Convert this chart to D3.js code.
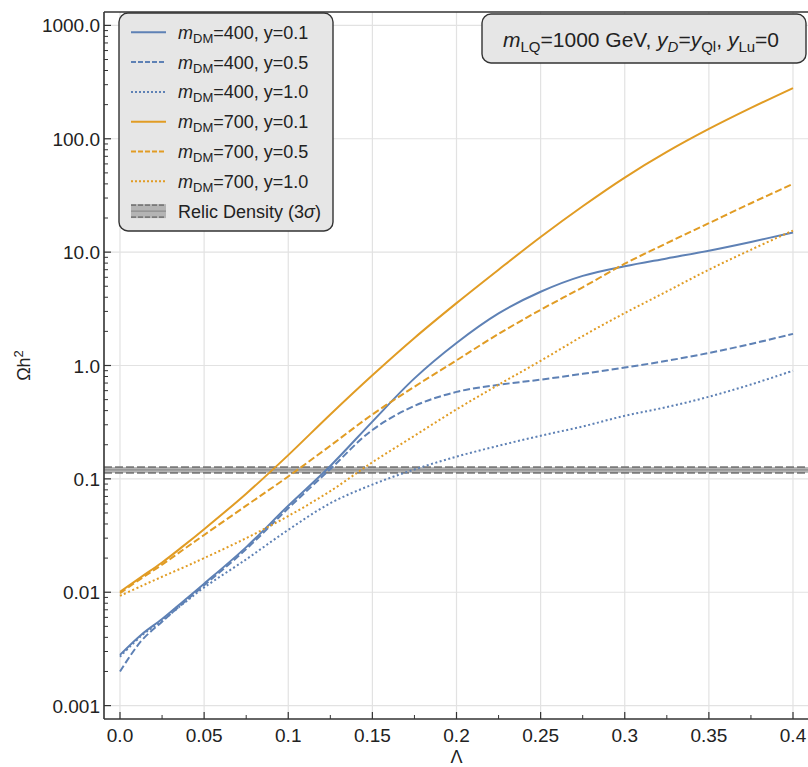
<!DOCTYPE html>
<html>
<head>
<meta charset="utf-8">
<script src="https://cdn.jsdelivr.net/npm/d3@7"></script>
<style>
  body { margin: 0; background: #fff; }
  svg { display: block; font-family: "Liberation Sans", Arial, sans-serif; }
</style>
</head>
<body>
<div id="chart"></div>
<script>
// Omega h^2 vs Lambda
var lambda = [0, 0.0125, 0.025, 0.0375, 0.05, 0.075, 0.1, 0.125, 0.15, 0.175, 0.2, 0.225, 0.25, 0.275, 0.3, 0.325, 0.35, 0.375, 0.4];

var dm400y01 = [0.0028, 0.0042, 0.0058, 0.0083, 0.0119, 0.025, 0.058, 0.13, 0.32, 0.77, 1.58, 2.88, 4.47, 6.17, 7.5, 8.8, 10.3, 12.3, 14.9];
var dm400y05 = [0.0020, 0.0037, 0.0055, 0.0080, 0.0115, 0.024, 0.055, 0.122, 0.27, 0.44, 0.585, 0.675, 0.75, 0.845, 0.96, 1.1, 1.29, 1.55, 1.9];
var dm400y10 = [0.0027, 0.0041, 0.0056, 0.0079, 0.011, 0.0195, 0.0355, 0.061, 0.089, 0.121, 0.157, 0.196, 0.24, 0.29, 0.36, 0.43, 0.53, 0.68, 0.9];
var dm700y01 = [0.0101, 0.0136, 0.0183, 0.0255, 0.036, 0.074, 0.162, 0.37, 0.82, 1.75, 3.55, 7.0, 13.6, 25.4, 45.5, 76.5, 122, 187, 280];
var dm700y05 = [0.0098, 0.0132, 0.0175, 0.0237, 0.032, 0.058, 0.105, 0.196, 0.37, 0.65, 1.11, 1.9, 3.1, 4.9, 7.9, 12, 18, 27, 40];
var dm700y10 = [0.0093, 0.0113, 0.0137, 0.0165, 0.020, 0.030, 0.047, 0.078, 0.14, 0.24, 0.41, 0.676, 1.10, 1.82, 2.9, 4.5, 7.0, 10.5, 15.5];

var relic = [0.113, 0.12, 0.127];   // lower, central, upper

var xTicks = [0, 0.05, 0.1, 0.15, 0.2, 0.25, 0.3, 0.35, 0.4];
var xTickLabels = ["0.0", "0.05", "0.1", "0.15", "0.2", "0.25", "0.3", "0.35", "0.4"];
var yTicks = [0.001, 0.01, 0.1, 1, 10, 100, 1000];
var yTickLabels = ["0.001", "0.01", "0.1", "1.0", "10.0", "100.0", "1000.0"];

var blue = "#5e81b5", orange = "#e19c24";

var series = [
  { mdm: 400, y: "0.1", values: dm400y01, color: blue, dash: null },
  { mdm: 400, y: "0.5", values: dm400y05, color: blue, dash: "7,3" },
  { mdm: 400, y: "1.0", values: dm400y10, color: blue, dash: "2,2.5" },
  { mdm: 700, y: "0.1", values: dm700y01, color: orange, dash: null },
  { mdm: 700, y: "0.5", values: dm700y05, color: orange, dash: "7,3" },
  { mdm: 700, y: "1.0", values: dm700y10, color: orange, dash: "2,2.5" }
];

var W = 808, H = 767;
var frame = { left: 104, right: 814, top: 12, bottom: 719 };

var svg = d3.select("#chart").append("svg")
    .attr("width", W)
    .attr("height", H);

var x = d3.scaleLinear().domain([0, 0.4]).range([120, 793]);
var y = d3.scaleLog().domain([0.001, 1000]).range([705.6, 25.4]);

// grid
var grid = svg.append("g");
grid.selectAll(".gx").data(xTicks).enter().append("line")
    .attr("x1", function(d){ return x(d); })
    .attr("x2", function(d){ return x(d); })
    .attr("y1", frame.top)
    .attr("y2", frame.bottom)
    .attr("stroke", "#e2e2e2")
    .attr("stroke-width", 1.2);
grid.selectAll(".gy").data(yTicks).enter().append("line")
    .attr("x1", frame.left)
    .attr("x2", frame.right)
    .attr("y1", function(d){ return y(d); })
    .attr("y2", function(d){ return y(d); })
    .attr("stroke", "#e2e2e2")
    .attr("stroke-width", 1.2);

// relic density band
svg.append("rect")
    .attr("x", frame.left)
    .attr("width", frame.right - frame.left)
    .attr("y", y(relic[2]))
    .attr("height", y(relic[0]) - y(relic[2]))
    .attr("fill", "#b4b4b4");
svg.append("line")
    .attr("x1", frame.left).attr("x2", frame.right)
    .attr("y1", y(relic[1])).attr("y2", y(relic[1]))
    .attr("stroke", "#8c8c8c").attr("stroke-width", 1.3);
[relic[0], relic[2]].forEach(function(v){
  svg.append("line")
      .attr("x1", frame.left).attr("x2", frame.right)
      .attr("y1", y(v)).attr("y2", y(v))
      .attr("stroke", "#7a7a7a").attr("stroke-width", 1.6)
      .attr("stroke-dasharray", "8,3");
});

// curves
var line = d3.line()
    .x(function(d, i){ return x(lambda[i]); })
    .y(function(d){ return y(d); })
    .curve(d3.curveCatmullRom.alpha(0.5));

series.forEach(function(s){
  svg.append("path")
      .attr("d", line(s.values))
      .attr("fill", "none")
      .attr("stroke", s.color)
      .attr("stroke-width", 2)
      .attr("stroke-dasharray", s.dash);
});

// frame
var axisColor = "#333";
svg.append("line").attr("x1", frame.left).attr("x2", frame.left)
    .attr("y1", frame.top).attr("y2", frame.bottom)
    .attr("stroke", axisColor).attr("stroke-width", 1.6);
svg.append("line").attr("x1", frame.left).attr("x2", frame.right)
    .attr("y1", frame.bottom).attr("y2", frame.bottom)
    .attr("stroke", axisColor).attr("stroke-width", 1.6);
svg.append("line").attr("x1", frame.left).attr("x2", frame.right)
    .attr("y1", frame.top).attr("y2", frame.top)
    .attr("stroke", axisColor).attr("stroke-width", 1.6);

// x ticks
var xMinor = d3.range(0.025, 0.4, 0.05);
svg.selectAll(".xt").data(xTicks).enter().append("line")
    .attr("x1", function(d){ return x(d); }).attr("x2", function(d){ return x(d); })
    .attr("y1", frame.bottom).attr("y2", frame.bottom - 7)
    .attr("stroke", axisColor).attr("stroke-width", 1.2);
svg.selectAll(".xm").data(xMinor).enter().append("line")
    .attr("x1", function(d){ return x(d); }).attr("x2", function(d){ return x(d); })
    .attr("y1", frame.bottom).attr("y2", frame.bottom - 4)
    .attr("stroke", axisColor).attr("stroke-width", 1);
svg.selectAll(".xl").data(xTicks).enter().append("text")
    .attr("x", function(d){ return x(d); })
    .attr("y", 742)
    .attr("text-anchor", "middle")
    .attr("font-size", "19px")
    .attr("fill", "#222")
    .text(function(d, i){ return xTickLabels[i]; });

// y ticks
var yMinor = [];
yTicks.slice(0, -1).forEach(function(p){
  for (var k = 2; k <= 9; k++) yMinor.push(p * k);
});
svg.selectAll(".yt").data(yTicks).enter().append("line")
    .attr("x1", frame.left).attr("x2", frame.left + 7)
    .attr("y1", function(d){ return y(d); }).attr("y2", function(d){ return y(d); })
    .attr("stroke", axisColor).attr("stroke-width", 1.2);
svg.selectAll(".ym").data(yMinor).enter().append("line")
    .attr("x1", frame.left).attr("x2", frame.left + 4)
    .attr("y1", function(d){ return y(d); }).attr("y2", function(d){ return y(d); })
    .attr("stroke", axisColor).attr("stroke-width", 1);
svg.selectAll(".yl").data(yTicks).enter().append("text")
    .attr("x", 100)
    .attr("y", function(d){ return y(d) + 7; })
    .attr("text-anchor", "end")
    .attr("font-size", "19px")
    .attr("fill", "#222")
    .text(function(d, i){ return yTickLabels[i]; });

// axis labels
svg.append("text")
    .attr("x", x(0.2))
    .attr("y", 763)
    .attr("text-anchor", "middle")
    .attr("font-size", "18px")
    .attr("fill", "#222")
    .text("Λ");

var yLab = svg.append("text")
    .attr("transform", "translate(30," + y(1) + ") rotate(-90)")
    .attr("text-anchor", "middle")
    .attr("font-size", "18px")
    .attr("fill", "#222");
yLab.append("tspan").text("Ωh");
yLab.append("tspan").attr("dy", -7).attr("font-size", "13px").text("2");

// legend
var legend = svg.append("g");
legend.append("rect")
    .attr("x", 119).attr("y", 13)
    .attr("width", 214).attr("height", 218)
    .attr("rx", 9)
    .attr("fill", "#e6e6e6")
    .attr("stroke", "#333")
    .attr("stroke-width", 1.4);

series.forEach(function(s, i){
  var cy = 32.3 + i * 29.8;
  legend.append("line")
      .attr("x1", 131).attr("x2", 166)
      .attr("y1", cy).attr("y2", cy)
      .attr("stroke", s.color)
      .attr("stroke-width", 2)
      .attr("stroke-dasharray", s.dash ? (s.dash == "7,3" ? "5,2" : "2,2") : null);
  var t = legend.append("text")
      .attr("x", 178).attr("y", cy + 6.5)
      .attr("font-size", "18px")
      .attr("fill", "#222");
  t.append("tspan").attr("font-style", "italic").text("m");
  t.append("tspan").attr("font-size", "13px").attr("dy", 4).text("DM");
  t.append("tspan").attr("dy", -4).text("=" + s.mdm + ", y=" + s.y);
});

var ry = 32.3 + 6 * 29.8;
legend.append("rect")
    .attr("x", 131).attr("y", ry - 7)
    .attr("width", 35).attr("height", 14)
    .attr("fill", "#b4b4b4");
legend.append("line")
    .attr("x1", 131).attr("x2", 166).attr("y1", ry).attr("y2", ry)
    .attr("stroke", "#8c8c8c").attr("stroke-width", 1.3);
[ry - 6, ry + 6].forEach(function(v){
  legend.append("line")
      .attr("x1", 131).attr("x2", 166).attr("y1", v).attr("y2", v)
      .attr("stroke", "#7a7a7a").attr("stroke-width", 1.6)
      .attr("stroke-dasharray", "5,2");
});
var rt = legend.append("text")
    .attr("x", 178).attr("y", ry + 6.5)
    .attr("font-size", "18px")
    .attr("fill", "#222");
rt.append("tspan").text("Relic Density (3");
rt.append("tspan").attr("font-style", "italic").text("σ");
rt.append("tspan").text(")");

// parameter label
var box = svg.append("g");
box.append("rect")
    .attr("x", 482).attr("y", 14)
    .attr("width", 324).attr("height", 49)
    .attr("rx", 9)
    .attr("fill", "#e6e6e6")
    .attr("stroke", "#333")
    .attr("stroke-width", 1.4);
var bt = box.append("text")
    .attr("x", 503).attr("y", 46.5)
    .attr("font-size", "21px")
    .attr("fill", "#222");
bt.append("tspan").attr("font-style", "italic").text("m");
bt.append("tspan").attr("font-size", "15px").attr("dy", 5).text("LQ");
bt.append("tspan").attr("dy", -5).text("=1000 GeV, ");
bt.append("tspan").attr("font-style", "italic").text("y");
bt.append("tspan").attr("font-style", "italic").attr("font-size", "15px").attr("dy", 5).text("D");
bt.append("tspan").attr("dy", -5).text("=");
bt.append("tspan").attr("font-style", "italic").text("y");
bt.append("tspan").attr("font-size", "15px").attr("dy", 5).text("Ql");
bt.append("tspan").attr("dy", -5).text(", ");
bt.append("tspan").attr("font-style", "italic").text("y");
bt.append("tspan").attr("font-size", "15px").attr("dy", 5).text("Lu");
bt.append("tspan").attr("dy", -5).text("=0");
</script>
</body>
</html>
